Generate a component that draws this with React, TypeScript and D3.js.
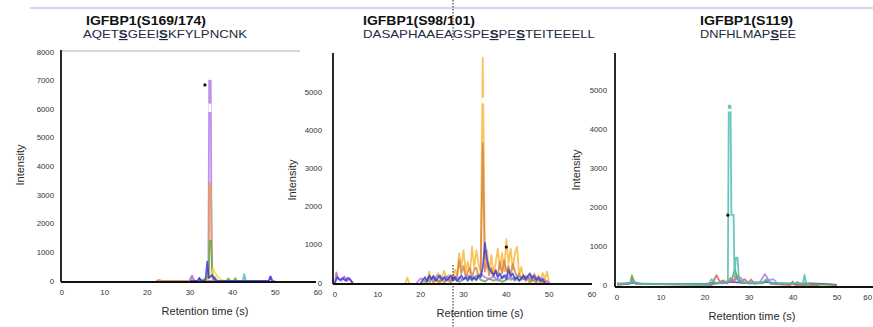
import React from 'react';
import * as d3 from 'd3';

type Pt = [number, number];

// ---------- data ----------
const titles = ['IGFBP1(S169/174)', 'IGFBP1(S98/101)', 'IGFBP1(S119)'];
const sequences = ['AQETSGEEISKFYLPNCNK', 'DASAPHAAEAGSPESPESTEITEEELL', 'DNFHLMAPSEE'];
const underlined = [[4, 9], [14, 17], [8]];
const xTicks = [0, 10, 20, 30, 40, 50, 60];
const yTicks1 = [0, 1000, 2000, 3000, 4000, 5000, 6000, 7000, 8000];
const yTicks23 = [0, 1000, 2000, 3000, 4000, 5000];

// panel 1 traces (time s, intensity)
const p1Purple: Pt[] = [[22, 0], [29.8, 0], [30.4, 170], [31, 0], [33.8, 0], [34.3, 300], [34.5, 7000], [34.85, 7000], [35.1, 250], [35.8, 80], [36.4, 0], [48.4, 0], [48.8, 160], [49.2, 0], [50, 0]];
const p1Orange: Pt[] = [[22, 0], [22.8, 40], [23.4, 0], [33.8, 0], [34.4, 200], [34.55, 3400], [34.9, 3400], [35.2, 150], [36, 40], [37, 0]];
const p1Green: Pt[] = [[32, 0], [34.3, 100], [34.6, 1400], [34.95, 1400], [35.3, 80], [36, 0], [38.5, 0], [39, 90], [39.5, 0], [40.2, 0], [40.6, 100], [41, 0]];
const p1Blue: Pt[] = [[30, 0], [31.8, 0], [32.2, 110], [32.6, 0], [33.6, 0], [34.05, 680], [34.4, 100], [35.1, 200], [35.6, 120], [36.2, 0], [48.5, 0], [48.9, 150], [49.3, 0]];
const p1Yellow: Pt[] = [[33.5, 0], [34.8, 150], [35.4, 420], [35.9, 300], [36.4, 150], [37.2, 60], [38, 0]];
const p1Teal: Pt[] = [[41, 0], [42.4, 0], [42.7, 240], [43.1, 0], [44, 0]];
const p1Magenta: Pt[] = [[30, 0], [30.5, 190], [31, 0], [31.8, 0], [32.2, 100], [32.6, 0], [35.4, 0], [35.8, 130], [36.3, 0], [37, 0]];

// panel 2 traces, sampled every 0.5 s from a start time
const p2YellowStart = 20;
const p2Yellow = [0, 0, 60, 0, 300, 80, 200, 50, 260, 100, 150, 320, 120, 200, 80, 150, 350, 200, 780, 400, 860, 300, 560, 250, 950, 400, 860, 500, 300, 5900, 600, 860, 300, 730, 250, 500, 900, 350, 780, 300, 1150, 500, 900, 350, 780, 950, 200, 420, 100, 200, 80, 220, 100, 250, 120, 200, 80, 260, 100, 300, 0];
const p2OrangeStart = 22;
const p2Orange = [0, 100, 0, 150, 50, 0, 100, 0, 120, 60, 0, 200, 80, 150, 600, 250, 450, 150, 300, 400, 150, 350, 400, 150, 200, 3650, 300, 550, 200, 400, 150, 350, 200, 550, 250, 600, 300, 450, 200, 500, 300, 150, 250, 80, 150, 50, 120, 0, 100, 50, 0, 100, 0, 80, 0, 50, 0];
const p2BlueStart = 20;
const p2Blue = [0, 80, 150, 50, 200, 100, 180, 60, 120, 200, 80, 150, 60, 120, 200, 80, 150, 50, 120, 200, 100, 150, 60, 180, 100, 150, 80, 200, 150, 400, 1050, 600, 380, 300, 200, 320, 150, 250, 120, 200, 100, 350, 180, 250, 100, 150, 60, 120, 200, 100, 180, 250, 120, 200, 80, 150, 60, 100, 0];
// every 1 s
const p2GreenStart = 21;
const p2Green = [0, 80, 150, 40, 100, 180, 60, 120, 30, 90, 150, 60, 200, 80, 40, 120, 60, 100, 30, 80, 150, 60, 180, 100, 160, 50, 120, 60, 0];
const p2PurpleStart = 19;
const p2Purple = [0, 120, 60, 150, 80, 200, 100, 160, 50, 180, 120, 90, 200, 140, 80, 250, 150, 100, 180, 60, 140, 220, 80, 150, 60, 200, 100, 170, 60, 140, 80, 0];
const p2EarlyMagenta: Pt[] = [[0, 0], [0.3, 280], [0.8, 100], [1.5, 60], [2.2, 170], [2.8, 50], [3.4, 120], [4, 0]];
const p2EarlyBlue: Pt[] = [[0, 0], [0.5, 150], [1.2, 80], [1.8, 130], [2.5, 60], [3, 140], [3.6, 80], [4.2, 0]];
const p2LoneYellow: Pt[] = [[16.5, 0], [16.9, 140], [17.3, 0]];

// panel 3 traces
const p3Teal: Pt[] = [[0, 30], [3, 40], [3.5, 120], [4, 40], [20.8, 0], [21.5, 150], [22.2, 60], [24, 50], [25.2, 100], [25.4, 4600], [25.8, 4600], [26.0, 1800], [26.5, 1800], [26.7, 200], [27.0, 700], [27.4, 700], [27.7, 150], [28.5, 80], [30, 40], [33, 60], [34, 150], [35, 40], [42.3, 40], [42.6, 260], [43, 40], [44, 0]];
const p3Red: Pt[] = [[0, 0], [3, 40], [3.6, 160], [4.2, 30], [21.5, 0], [22.6, 250], [23.4, 80], [24.2, 120], [25, 40], [25.8, 180], [26.6, 80], [27.2, 250], [28, 80], [29, 150], [29.8, 60], [30.5, 140], [31.2, 30], [33, 60], [34, 120], [35, 30], [39.4, 0], [39.9, 90], [40.4, 0], [46, 0]];
const p3Green: Pt[] = [[0, 20], [3, 60], [3.4, 250], [3.9, 60], [4.5, 20], [22, 20], [23, 60], [26, 100], [26.8, 400], [27.5, 120], [28.3, 60], [33, 40], [34, 120], [35, 40], [40.5, 30], [41, 80], [41.5, 30], [50, 0]];
const p3Purple: Pt[] = [[20, 0], [22, 30], [25, 60], [28, 200], [29, 60], [32.5, 80], [33.6, 280], [34.5, 120], [35.5, 150], [36.5, 40], [40, 20]];
const p3Blue: Pt[] = [[0, 40], [2, 20], [4, 60], [6, 20], [8, 30], [10, 20], [12, 30], [15, 20], [18, 30], [20, 20], [22, 60], [24, 40], [26, 80], [28, 60], [30, 40], [32, 50], [34, 80], [36, 40], [40, 30], [44, 40], [48, 20], [50, 0]];

// apex markers (*) and label gaps [t0, t1, v0, v1]
const markers: Pt[][] = [[[33.5, 6850]], [[40, 940]], [[25.2, 1790]]];
const gaps: [number, number, number, number][][] = [
  [[34.3, 35.0, 5900, 6200]],
  [[34.2, 34.9, 4700, 4850]],
  [[25.2, 26.0, 4450, 4520]],
];

const C = {
  purple: '#b27ee6', orange: '#e99a5c', green: '#6aa84f', blue: '#3b3fd8', yellow: '#f9b93f',
  teal: '#4fbcb4', magenta: '#c865c2', red: '#d9605a', darkOrange: '#d8843c',
};

const sampled = (start: number, step: number, vals: number[]): Pt[] => vals.map((v, i) => [start + i * step, v]);

const seriesByPanel: { pts: Pt[]; color: string }[][] = [
  [
    { pts: p1Magenta, color: C.magenta }, { pts: p1Teal, color: C.teal }, { pts: p1Purple, color: C.purple },
    { pts: p1Orange, color: C.orange }, { pts: p1Green, color: C.green }, { pts: p1Yellow, color: '#f2dc3a' },
    { pts: p1Blue, color: C.blue },
  ],
  [
    { pts: sampled(p2YellowStart, 0.5, p2Yellow), color: C.yellow },
    { pts: sampled(p2OrangeStart, 0.5, p2Orange), color: C.darkOrange },
    { pts: sampled(p2GreenStart, 1, p2Green), color: C.green },
    { pts: sampled(p2PurpleStart, 1, p2Purple), color: C.purple },
    { pts: sampled(p2BlueStart, 0.5, p2Blue), color: C.blue },
    { pts: p2EarlyMagenta, color: C.magenta }, { pts: p2EarlyBlue, color: C.blue },
    { pts: p2LoneYellow, color: C.yellow },
  ],
  [
    { pts: p3Blue, color: C.blue }, { pts: p3Red, color: C.red }, { pts: p3Purple, color: C.purple },
    { pts: p3Green, color: C.green }, { pts: p3Teal, color: C.teal },
  ],
];

// ---------- layout ----------
const layout = [
  { x0: 62, x60: 318, y0: 281, yTop: 52, yMax: 8000, axisX: 61, axisY: 282, axisEnd: 316, labR: 54, intX: 20, intY: 165, rtX: 205, titleX: 86, titleW: 120, seqX: 83, seqW: 164, yTicks: yTicks1 },
  { x0: 335, x60: 592, y0: 283, yTop: 55, yMax: 5970, axisX: 333, axisY: 284, axisEnd: 592, labR: 322, intX: 292, intY: 180, rtX: 480, titleX: 363, titleW: 112, seqX: 363, seqW: 232, yTicks: yTicks23 },
  { x0: 617, x60: 881, y0: 285, yTop: 55, yMax: 5900, axisX: 615, axisY: 287, axisEnd: 873, labR: 607, intX: 576, intY: 170, rtX: 752, titleX: 700, titleW: 93, seqX: 700, seqW: 96, yTicks: yTicks23 },
];

const font = 'Liberation Sans, Arial, sans-serif';
const W = 873;

const Sequence: React.FC<{ seq: string; marks: number[]; x: number; w: number }> = ({ seq, marks, x, w }) => {
  const parts: { s: string; u: boolean }[] = [];
  seq.split('').forEach((ch, i) => {
    const u = marks.includes(i);
    const last = parts[parts.length - 1];
    if (last && last.u === u && !u) last.s += ch;
    else parts.push({ s: ch, u });
  });
  return (
    <text x={x} y={38} fontSize={11.5} fill="#1f2a44" textLength={w} lengthAdjust="spacingAndGlyphs">
      {parts.map((p, i) => (
        <tspan key={i} fontWeight={p.u ? 'bold' : 'normal'} textDecoration={p.u ? 'underline' : 'none'}>{p.s}</tspan>
      ))}
    </text>
  );
};

const App: React.FC = () => {
  return (
    <svg width={W} height={327} style={{ position: 'absolute', left: 0, top: 0, background: '#fff' }} fontFamily={font}>
      <line x1={30} x2={W} y1={8} y2={8} stroke="#9db4da" strokeWidth={1.2} />
      <line x1={62} x2={300} y1={51} y2={51} stroke="#c9c9c9" strokeWidth={1.5} />
      {layout.map((L, pi) => {
        const x = d3.scaleLinear().domain([0, 60]).range([L.x0, L.x60]);
        const y = d3.scaleLinear().domain([0, L.yMax]).range([L.y0, L.yTop]);
        const line = d3.line<Pt>().x(d => x(d[0])).y(d => y(Math.min(d[1], L.yMax)));
        return (
          <g key={pi}>
            {seriesByPanel[pi].map((s, si) => (
              <path key={si} d={line(s.pts) || ''} fill="none" stroke={s.color} strokeWidth={1.8} strokeOpacity={0.85} strokeLinejoin="round" />
            ))}
            {gaps[pi].map((g, gi) => (
              <rect key={gi} x={x(g[0])} width={x(g[1]) - x(g[0])} y={y(g[3])} height={y(g[2]) - y(g[3])} fill="#fff" />
            ))}
            {markers[pi].map((m, mi) => (
              <circle key={mi} cx={x(m[0])} cy={y(m[1])} r={1.6} fill="#111" />
            ))}
            <line x1={L.axisX} x2={L.axisX} y1={L.yTop - 2} y2={L.axisY} stroke="#111" strokeWidth={1.8} />
            <line x1={L.axisX} x2={L.axisEnd} y1={L.axisY} y2={L.axisY} stroke="#111" strokeWidth={1.8} />
            {L.yTicks.map(t => (
              <text key={t} x={L.labR} y={y(t) + 2.5} fontSize={7.8} textAnchor="end" fill="#333">{t}</text>
            ))}
            {xTicks.map(t => {
              const cx = x(t);
              const clip = cx + 5 > W;
              return (
                <text key={t} x={clip ? W - 1 : cx} y={L.axisY + 13} fontSize={7.8} textAnchor={clip ? 'end' : 'middle'} fill="#333">{t}</text>
              );
            })}
            <text x={L.rtX} y={L.axisY + 33} fontSize={11} textAnchor="middle" fill="#2a2a2a">Retention time (s)</text>
            <text transform={`translate(${L.intX},${L.intY}) rotate(-90)`} fontSize={11} textAnchor="middle" dy={4} fill="#2a2a2a">Intensity</text>
            <text x={L.titleX} y={25} fontSize={12.5} fontWeight="bold" fill="#111" textLength={L.titleW} lengthAdjust="spacingAndGlyphs">{titles[pi]}</text>
            <Sequence seq={sequences[pi]} marks={underlined[pi]} x={L.seqX} w={L.seqW} />
          </g>
        );
      })}
      <line x1={453} x2={453} y1={0} y2={40} stroke="#222" strokeWidth={1} strokeDasharray="1.5,1.5" />
      <line x1={453} x2={453} y1={265} y2={327} stroke="#222" strokeWidth={1} strokeDasharray="1.5,1.5" />
    </svg>
  );
};

export default App;
